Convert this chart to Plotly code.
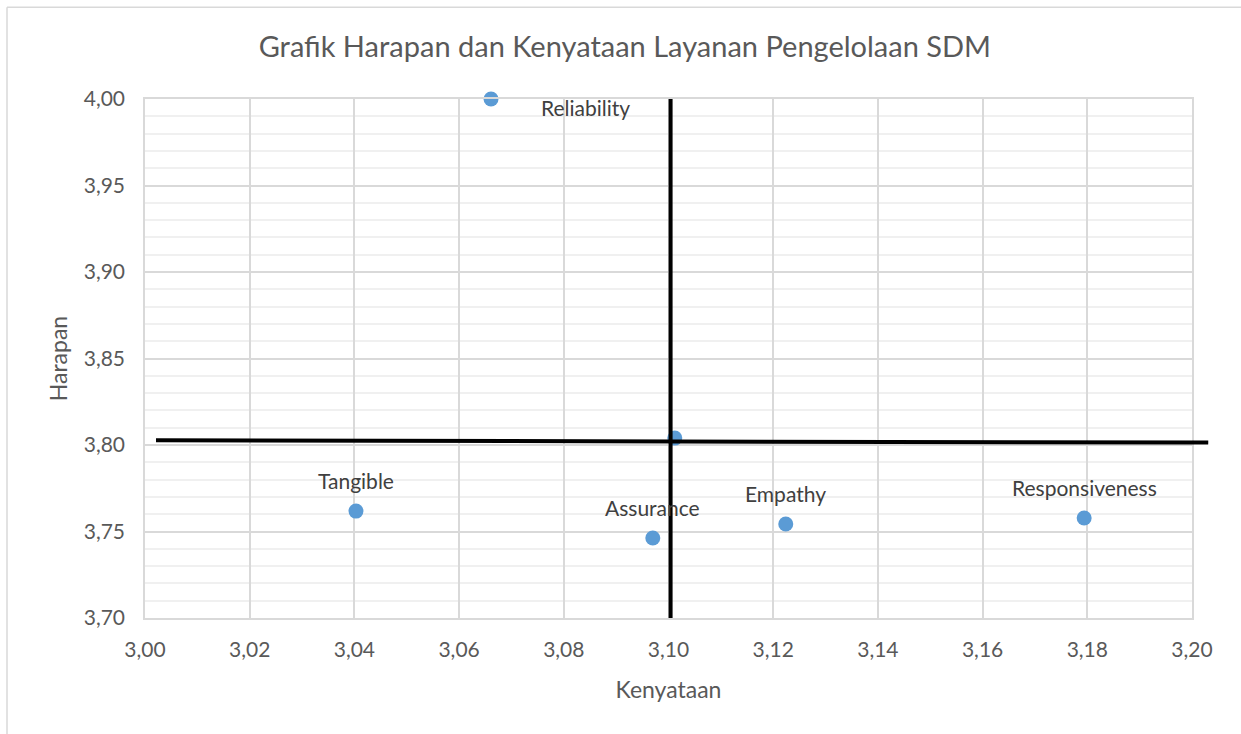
import plotly.graph_objects as go

# Data
labels = ["Tangible", "Reliability", "Responsiveness", "Assurance", "Empathy", ""]
kenyataan = [3.0403, 3.0661, 3.1794, 3.0970, 3.1224, 3.1012]
harapan = [3.7618, 4.0000, 3.7578, 3.7462, 3.7543, 3.8040]
mean_x = 3.1004
mean_y_left = 3.8027
mean_y_right = 3.8014

# label offsets in pixels (style, not data)
label_dx = [0, 94, 0, 0, 0, 0]
label_dy = [31, -8, 31, 31, 31, 31]

FONT = "Lato"
fig = go.Figure()
fig.add_trace(go.Scatter(
    x=kenyataan, y=harapan, mode="markers",
    marker=dict(size=15, color="#5b9bd5"),
    cliponaxis=False, showlegend=False, hoverinfo="x+y",
))
for lab, xv, yv, dx, dy in zip(labels, kenyataan, harapan, label_dx, label_dy):
    if lab:
        fig.add_annotation(x=xv, y=yv, text=lab, showarrow=False, xanchor="center",
                           yanchor="middle", xshift=dx, yshift=dy,
                           font=dict(family=FONT, size=21, color="#404040"))

# quadrant lines
fig.add_shape(type="line", xref="x", yref="y", x0=mean_x, x1=mean_x, y0=3.70, y1=4.0,
              line=dict(color="black", width=4))
fig.add_shape(type="line", xref="paper", yref="y", x0=0.0105, x1=1.0155,
              y0=mean_y_left, y1=mean_y_right, line=dict(color="black", width=4))

# chart border (top and left)
fig.add_shape(type="line", xref="paper", yref="paper", x0=-0.1318, x1=1.2, y0=1.177, y1=1.177,
              line=dict(color="#d9d9d9", width=1.5))
fig.add_shape(type="line", xref="paper", yref="paper", x0=-0.1318, x1=-0.1318, y0=-0.5, y1=1.177,
              line=dict(color="#d9d9d9", width=1.5))

fig.update_layout(
    width=1241, height=734,
    margin=dict(l=145, r=49, t=99, b=116),
    paper_bgcolor="white", plot_bgcolor="white",
    separators=",.",
    title=dict(text="Grafik Harapan dan Kenyataan Layanan Pengelolaan SDM",
               x=0.5035, xanchor="center", y=0.936, yanchor="middle",
               font=dict(family=FONT, size=29, color="#595959")),
    font=dict(family=FONT, color="#595959"),
)
fig.update_xaxes(
    range=[3.0, 3.2], dtick=0.02, tick0=3.0, tickformat=".2f",
    showgrid=True, gridcolor="#d9d9d9", gridwidth=1.5,
    showline=True, linecolor="#d9d9d9", linewidth=1.5, mirror=True,
    zeroline=False, ticks="", ticklabelstandoff=12,
    tickfont=dict(family=FONT, size=21, color="#595959"),
    title=dict(text="Kenyataan", font=dict(family=FONT, size=23, color="#595959"), standoff=22),
)
fig.update_yaxes(
    range=[3.70, 4.0], dtick=0.05, tick0=3.70, tickformat=".2f",
    showgrid=True, gridcolor="#d9d9d9", gridwidth=1.5,
    minor=dict(dtick=0.01, showgrid=True, gridcolor="#f0f0f0", gridwidth=1.5),
    showline=True, linecolor="#d9d9d9", linewidth=1.5, mirror=True,
    zeroline=False, ticks="", ticklabelstandoff=14,
    tickfont=dict(family=FONT, size=21, color="#595959"),
    title=dict(text="Harapan", font=dict(family=FONT, size=23, color="#595959"), standoff=10),
)

fig.write_html("out.html", config={"displayModeBar": False},
               post_script="document.body.style.margin='0';")
